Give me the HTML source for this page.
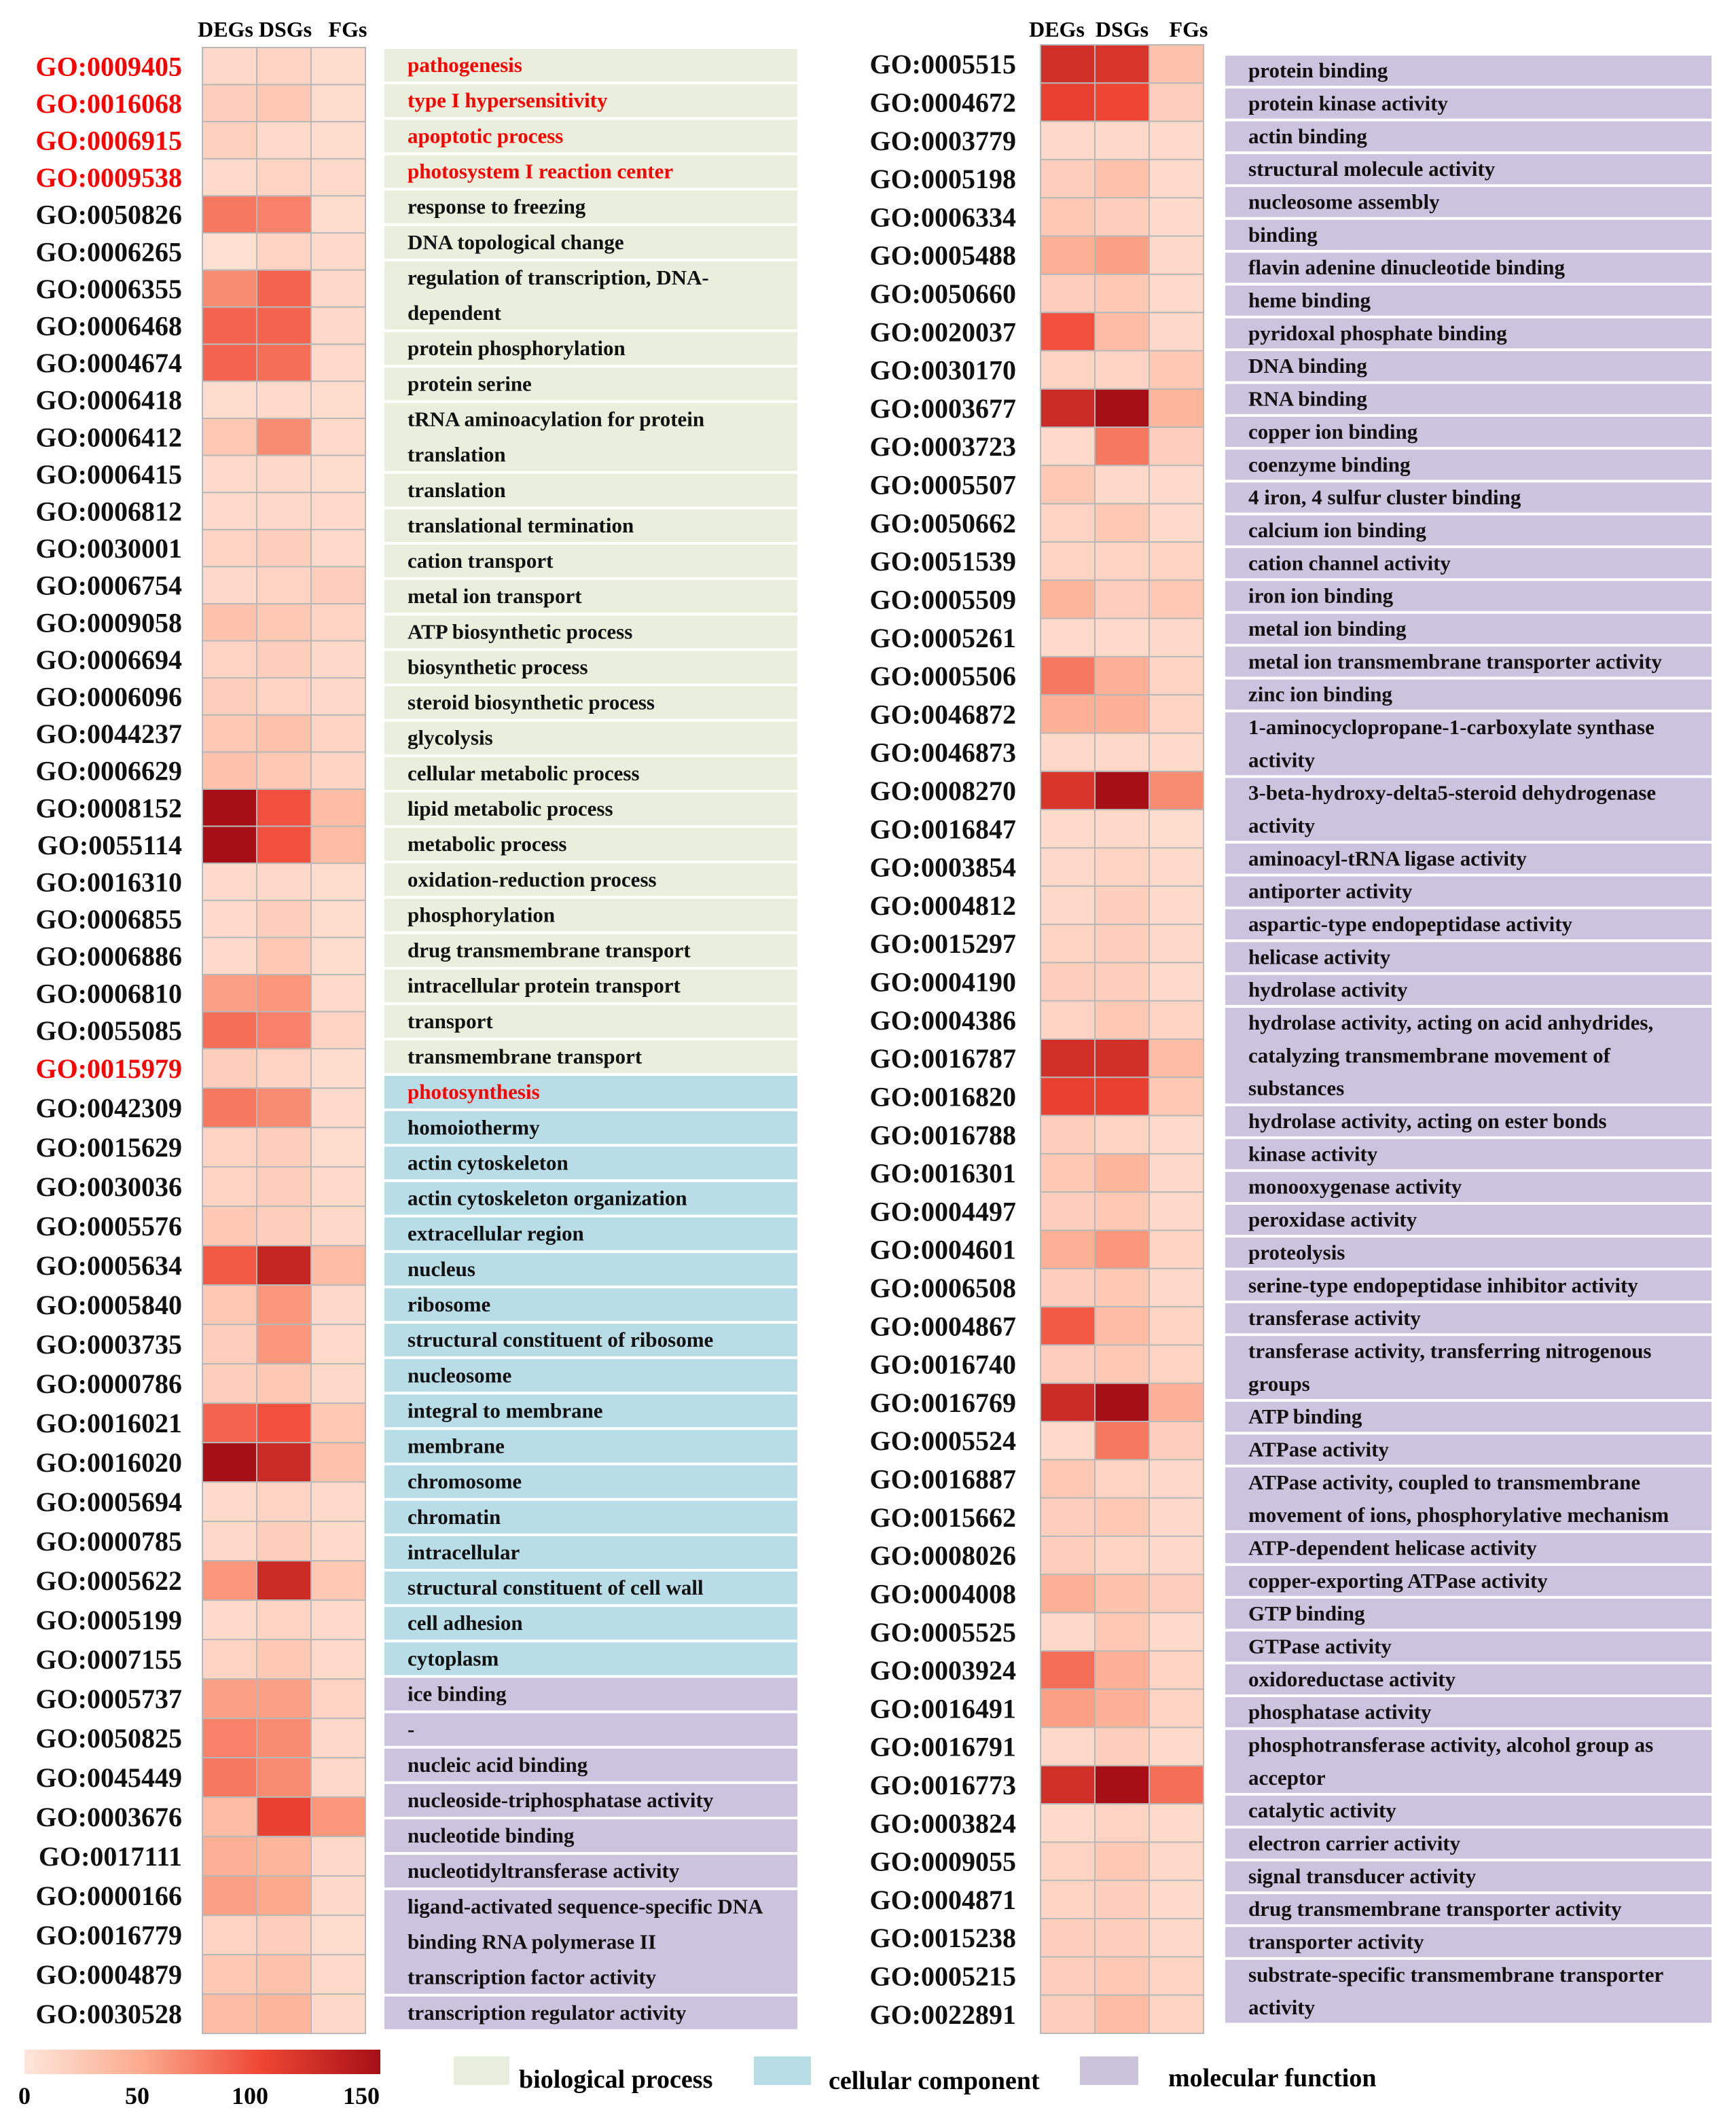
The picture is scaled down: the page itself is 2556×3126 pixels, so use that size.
<!DOCTYPE html>
<html><head><meta charset="utf-8"><style>
html,body{margin:0;padding:0;background:#fff}
svg{display:block}
text{font-family:"Liberation Serif",serif;font-weight:bold}
</style></head><body>
<svg id="chart" xmlns="http://www.w3.org/2000/svg" width="2556" height="3126" viewBox="0 0 1278 1563">
<defs>
<linearGradient id="cbar" x1="0" x2="1" y1="0" y2="0">
<stop offset="0" stop-color="#fee6da"/><stop offset="0.333" stop-color="#fcaa8d"/><stop offset="0.667" stop-color="#ef4634"/><stop offset="1" stop-color="#a50f15"/>
</linearGradient>
</defs>
<g id="left"></g><g id="right"></g>
<g>
<rect x="18" y="1509" width="262" height="18" fill="url(#cbar)"/>
<text x="18" y="1549" font-size="18" text-anchor="middle">0</text>
<text x="101" y="1549" font-size="18" text-anchor="middle">50</text>
<text x="184" y="1549" font-size="18" text-anchor="middle">100</text>
<text x="266" y="1549" font-size="18" text-anchor="middle">150</text>
<rect x="334" y="1514" width="41" height="21" fill="#e8eedd"/>
<text x="382" y="1537" font-size="19">biological process</text>
<rect x="555" y="1514" width="42" height="21" fill="#b7dde6"/>
<text x="610" y="1538" font-size="19">cellular component</text>
<rect x="795" y="1514" width="43" height="21" fill="#cbc3dc"/>
<text x="860" y="1536" font-size="19">molecular function</text>
</g>
</svg>
<script>
const columns = ["DEGs","DSGs","FGs"];
const leftIds = ["GO:0009405","GO:0016068","GO:0006915","GO:0009538","GO:0050826","GO:0006265","GO:0006355","GO:0006468","GO:0004674","GO:0006418","GO:0006412","GO:0006415","GO:0006812","GO:0030001","GO:0006754","GO:0009058","GO:0006694","GO:0006096","GO:0044237","GO:0006629","GO:0008152","GO:0055114","GO:0016310","GO:0006855","GO:0006886","GO:0006810","GO:0055085","GO:0015979","GO:0042309","GO:0015629","GO:0030036","GO:0005576","GO:0005634","GO:0005840","GO:0003735","GO:0000786","GO:0016021","GO:0016020","GO:0005694","GO:0000785","GO:0005622","GO:0005199","GO:0007155","GO:0005737","GO:0050825","GO:0045449","GO:0003676","GO:0017111","GO:0000166","GO:0016779","GO:0004879","GO:0030528"];
const leftRed = ["GO:0009405","GO:0016068","GO:0006915","GO:0009538","GO:0015979"];
const leftDEGs = [12,20,18,10,75,5,65,85,85,8,25,10,10,15,12,30,15,20,25,30,150,155,10,10,10,55,80,20,75,15,15,25,90,25,20,20,85,160,10,12,60,10,15,55,70,75,35,45,55,15,25,35];
const leftDSGs = [15,25,10,15,70,15,85,85,80,10,65,12,12,20,15,25,20,15,30,25,95,95,12,20,25,60,70,15,65,20,20,20,130,60,60,25,95,125,15,20,125,15,25,55,65,65,105,40,50,20,30,40];
const leftFGs = [8,8,8,10,8,10,12,12,10,8,10,8,10,10,20,15,12,12,15,15,35,35,8,8,8,10,15,8,10,8,10,12,35,12,10,12,25,30,10,10,25,10,10,15,12,12,60,12,12,8,10,12];
const leftCat = [27,16,9];
const leftTerms = [
 ["pathogenesis"],["type I hypersensitivity"],["apoptotic process"],["photosystem I reaction center"],["response to freezing"],["DNA topological change"],["regulation of transcription, DNA-","dependent"],["protein phosphorylation"],["protein serine"],["tRNA aminoacylation for protein","translation"],["translation"],["translational termination"],["cation transport"],["metal ion transport"],["ATP biosynthetic process"],["biosynthetic process"],["steroid biosynthetic process"],["glycolysis"],["cellular metabolic process"],["lipid metabolic process"],["metabolic process"],["oxidation-reduction process"],["phosphorylation"],["drug transmembrane transport"],["intracellular protein transport"],["transport"],["transmembrane transport"],
 ["photosynthesis"],["homoiothermy"],["actin cytoskeleton"],["actin cytoskeleton organization"],["extracellular region"],["nucleus"],["ribosome"],["structural constituent of ribosome"],["nucleosome"],["integral to membrane"],["membrane"],["chromosome"],["chromatin"],["intracellular"],["structural constituent of cell wall"],["cell adhesion"],["cytoplasm"],
 ["ice binding"],["-"],["nucleic acid binding"],["nucleoside-triphosphatase activity"],["nucleotide binding"],["nucleotidyltransferase activity"],["ligand-activated sequence-specific DNA","binding RNA polymerase II","transcription factor activity"],["transcription regulator activity"]];
const leftTermCat = [27,17,8];
const leftRedTerms = ["pathogenesis","type I hypersensitivity","apoptotic process","photosystem I reaction center","photosynthesis"];

const rightIds = ["GO:0005515","GO:0004672","GO:0003779","GO:0005198","GO:0006334","GO:0005488","GO:0050660","GO:0020037","GO:0030170","GO:0003677","GO:0003723","GO:0005507","GO:0050662","GO:0051539","GO:0005509","GO:0005261","GO:0005506","GO:0046872","GO:0046873","GO:0008270","GO:0016847","GO:0003854","GO:0004812","GO:0015297","GO:0004190","GO:0004386","GO:0016787","GO:0016820","GO:0016788","GO:0016301","GO:0004497","GO:0004601","GO:0006508","GO:0004867","GO:0016740","GO:0016769","GO:0005524","GO:0016887","GO:0015662","GO:0008026","GO:0004008","GO:0005525","GO:0003924","GO:0016491","GO:0016791","GO:0016773","GO:0003824","GO:0009055","GO:0004871","GO:0015238","GO:0005215","GO:0022891"];
const rightDEGs = [120,105,12,20,25,45,20,95,15,125,10,25,15,15,40,10,75,45,12,115,10,12,12,15,20,15,120,105,20,25,20,45,20,90,20,125,10,25,20,20,45,12,80,55,12,120,10,15,15,20,20,20];
const rightDSGs = [115,100,12,30,20,55,25,35,15,160,75,12,25,15,20,10,45,45,12,150,12,15,20,20,20,25,120,105,15,40,25,60,25,35,25,160,75,15,25,15,30,25,45,45,20,150,15,25,20,20,25,35];
const rightFGs = [30,20,10,10,10,12,10,12,25,40,20,10,10,15,25,12,15,15,10,65,8,10,10,12,10,15,35,25,10,12,12,15,12,15,15,45,20,12,12,12,20,10,15,15,10,80,10,12,10,12,15,15];
const rightTerms = [["protein binding"],["protein kinase activity"],["actin binding"],["structural molecule activity"],["nucleosome assembly"],["binding"],["flavin adenine dinucleotide binding"],["heme binding"],["pyridoxal phosphate binding"],["DNA binding"],["RNA binding"],["copper ion binding"],["coenzyme binding"],["4 iron, 4 sulfur cluster binding"],["calcium ion binding"],["cation channel activity"],["iron ion binding"],["metal ion binding"],["metal ion transmembrane transporter activity"],["zinc ion binding"],["1-aminocyclopropane-1-carboxylate synthase","activity"],["3-beta-hydroxy-delta5-steroid dehydrogenase","activity"],["aminoacyl-tRNA ligase activity"],["antiporter activity"],["aspartic-type endopeptidase activity"],["helicase activity"],["hydrolase activity"],["hydrolase activity, acting on acid anhydrides,","catalyzing transmembrane movement of","substances"],["hydrolase activity, acting on ester bonds"],["kinase activity"],["monooxygenase activity"],["peroxidase activity"],["proteolysis"],["serine-type endopeptidase inhibitor activity"],["transferase activity"],["transferase activity, transferring nitrogenous","groups"],["ATP binding"],["ATPase activity"],["ATPase activity, coupled to transmembrane","movement of ions, phosphorylative mechanism"],["ATP-dependent helicase activity"],["copper-exporting ATPase activity"],["GTP binding"],["GTPase activity"],["oxidoreductase activity"],["phosphatase activity"],["phosphotransferase activity, alcohol group as","acceptor"],["catalytic activity"],["electron carrier activity"],["signal transducer activity"],["drug transmembrane transporter activity"],["transporter activity"],["substrate-specific transmembrane transporter","activity"]];

const NS="http://www.w3.org/2000/svg";
function mk(tag, attrs, parent){const e=document.createElementNS(NS,tag);for(const k in attrs)e.setAttribute(k,attrs[k]);parent.appendChild(e);return e;}
const stops=[[0,[254,230,218]],[50,[252,170,141]],[100,[239,70,52]],[150,[165,15,21]]];
function color(v){v=Math.max(0,Math.min(150,v));for(let i=0;i<stops.length-1;i++){const a=stops[i],b=stops[i+1];if(v<=b[0]){const t=(v-a[0])/(b[0]-a[0]);const c=a[1].map((x,j)=>Math.round(x+(b[1][j]-x)*t));return `rgb(${c[0]},${c[1]},${c[2]})`;}}return "rgb(165,15,21)";}
const catColors=["#e9efdc","#b9dde7","#ccc4de"];

function heatmap(g, ids, vals, rowYs, rowHs, x0, idX, redList, hdrXs){
  columns.forEach((c,j)=>{const t=mk('text',{x:hdrXs[j],y:27,'font-size':16,'text-anchor':'middle'},g);t.textContent=c;
  
  });
  ids.forEach((id,i)=>{
    const y=rowYs[i],h=rowHs[i];
    vals.forEach((arr,j)=>{const r=mk('rect',{x:x0+j*40,y:y,width:40,height:h,fill:color(arr[i]),stroke:'#b8b8b8','stroke-width':1},g);
      
      });
    const t=mk('text',{x:idX,y:y+h/2+7,'font-size':20,'text-anchor':'end',fill:redList.includes(id)?'#ff0000':'#111'},g);
    t.textContent=id;
    
    
  });
}
function termBoxes(g, terms, cats, catOffset, x0, w, top, unit, textX, redList, fontSize){
  let y=top, idx=0;
  cats.forEach((n,ci)=>{for(let k=0;k<n;k++){const lines=terms[idx++];const h=lines.length*unit;
    const r=mk('rect',{x:x0,y:y+1,width:w,height:h-2,fill:catColors[ci+catOffset]},g);
    
    
    lines.forEach((ln,li)=>{const t=mk('text',{x:textX,y:y+unit*(li+0.5)+5,'font-size':fontSize,fill:redList.includes(lines[0])?'#ff0000':'#111'},g);t.textContent=ln;
      
      });
    y+=h;}});
}
const L=document.getElementById('left');


{const ys=[],hs=[];let y=35;const hh=[27.3,29,29];leftCat.forEach((n,c)=>{for(let k=0;k<n;k++){ys.push(y);hs.push(hh[c]);y+=hh[c];}});
heatmap(L,leftIds,[leftDEGs,leftDSGs,leftFGs],ys,hs,149,134,leftRed,[166,210,256]);}
termBoxes(L,leftTerms,leftTermCat,0,283,304,35,26.07,300,leftRedTerms,15.5);
const R=document.getElementById('right');


{const ys=[],hs=[];const h=(1497-33)/rightIds.length;rightIds.forEach((_,i)=>{ys.push(33+i*h);hs.push(h);});
heatmap(R,rightIds,[rightDEGs,rightDSGs,rightFGs],ys,hs,766,748,[],[778,826,875]);}
termBoxes(R,rightTerms,[rightTerms.length],2,902,358,40,24.17,919,[],15.5);
</script>
</body></html>
